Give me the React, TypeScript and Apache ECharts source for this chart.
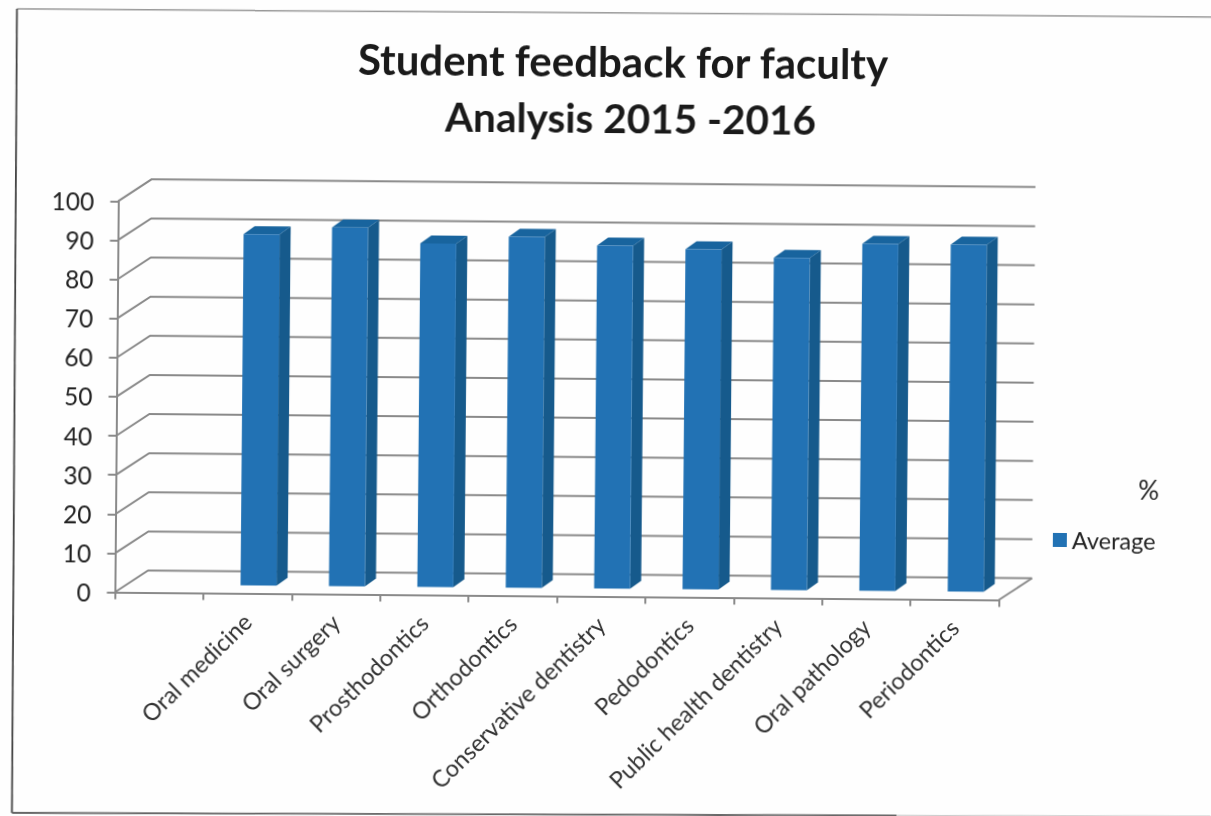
import React, { useEffect, useRef } from "react";
import * as echarts from "echarts";

const categories = ["", "Oral medicine", "Oral surgery", "Prosthodontics", "Orthodontics", "Conservative dentistry", "Pedodontics", "Public health dentistry", "Oral pathology", "Periodontics"];
const averages = [null, 89.8, 91.7, 87.8, 89.7, 87.7, 86.9, 84.9, 88.7, 88.7];
const yTicks = [0, 10, 20, 30, 40, 50, 60, 70, 80, 90, 100];
const titleLines = ["Student feedback for faculty", "Analysis 2015 -2016"];
const FONT = "Lato, 'Open Sans', sans-serif";

export default function App() {
  const ref = useRef<HTMLDivElement>(null);
  useEffect(() => {
    const chart = echarts.init(ref.current!, undefined, { renderer: "svg" });
    const P = 10;
    const wallDx = 33, wallDy = -22;
    const barDx = 11, barDy = -8;
    const baseDx = 11, baseDy = -8;
    const barW = 36;
    const lineStyle = { stroke: "#8a8a8a", lineWidth: 2, fill: "none" };
    const titleStyle = { fontFamily: FONT, fontSize: 42, fontWeight: "bold", color: "#1a1a1a" };
    chart.setOption({
      animation: false,
      backgroundColor: "#fefefe",
      title: [
        { text: titleLines[0], left: 615 + P, top: 35 + P, textAlign: "center", textStyle: titleStyle },
        { text: titleLines[1], left: 623 + P, top: 92 + P, textAlign: "center", textStyle: { ...titleStyle, fontSize: 40.5 } },
      ],
      legend: {
        data: ["Average"],
        left: 1049 + P,
        top: 519 + P,
        itemWidth: 14,
        itemHeight: 14,
        icon: "rect",
        textStyle: { fontFamily: FONT, fontSize: 23.5, color: "#222" },
      },
      grid: { left: 116.5 + P, right: 210.5 + P, top: 205.3 + P, bottom: 219.5 + P },
      xAxis: {
        type: "category",
        data: categories,
        boundaryGap: true,
        axisLine: { lineStyle: { color: "#8a8a8a", width: 2 } },
        axisTick: { show: true, alignWithLabel: false, length: 7, lineStyle: { color: "#8a8a8a", width: 2 } },
        axisLabel: { interval: 0, rotate: 45, margin: 24, fontFamily: FONT, fontSize: 23.5, color: "#333" },
      },
      yAxis: {
        type: "value",
        min: 0,
        max: 100,
        interval: 10,
        splitLine: { show: false },
        axisLine: { show: true, lineStyle: { color: "#8a8a8a", width: 2 } },
        axisTick: { show: true, length: 8, lineStyle: { color: "#8a8a8a", width: 2 } },
        axisLabel: { margin: 24, fontFamily: FONT, fontSize: 24.5, color: "#222" },
      },
      graphic: [
        { type: "text", left: 1139 + P, top: 472 + P, style: { text: "%", fontFamily: FONT, fontSize: 26, fill: "#222" } },
        { type: "line", silent: true, shape: { x1: 13.5 + P, y1: 14.1 + P, x2: 1208 + P, y2: 11.7 + P }, style: { stroke: "#999", lineWidth: 1.5 } },
        { type: "line", silent: true, shape: { x1: 13.5 + P, y1: 14.1 + P, x2: 15.5 + P, y2: 818 + P }, style: { stroke: "#444", lineWidth: 1.8 } },
        { type: "line", silent: true, shape: { x1: 15.5 + P, y1: 818 + P, x2: 900 + P, y2: 813 + P }, style: { stroke: "#666", lineWidth: 1.8 } },
        { type: "line", silent: true, shape: { x1: 900 + P, y1: 813 + P, x2: 1214 + P, y2: 811 + P }, style: { stroke: "#ccc", lineWidth: 1.5 } },
      ],
      series: [
        {
          type: "custom",
          name: "Walls",
          silent: true,
          z: 1,
          data: yTicks.map((t) => [categories[0], t]),
          renderItem: (params: any, api: any) => {
            const cs = params.coordSys;
            const y = api.coord([0, api.value(1)])[1];
            const children: any[] = [
              {
                type: "polyline",
                shape: { points: [[cs.x, y], [cs.x + wallDx, y + wallDy], [cs.x + cs.width + wallDx, y + wallDy]] },
                style: lineStyle,
              },
            ];
            if (api.value(1) === 0) {
              children.push({
                type: "line",
                shape: { x1: cs.x + cs.width, y1: y, x2: cs.x + cs.width + wallDx, y2: y + wallDy },
                style: lineStyle,
              });
            }
            return { type: "group", children };
          },
        },
        {
          type: "custom",
          name: "Average",
          silent: true,
          z: 3,
          itemStyle: { color: "#2272B4" },
          data: categories.map((c, i) => [c, averages[i]]).filter((d) => d[1] !== null),
          renderItem: (_p: any, api: any) => {
            const [cx, top] = api.coord([api.value(0), api.value(1)]);
            const [, bottom] = api.coord([api.value(0), 0]);
            const l = cx - barW / 2 + baseDx;
            const r = l + barW;
            const t = top + baseDy;
            const b = bottom + baseDy;
            return {
              type: "group",
              children: [
                { type: "polygon", shape: { points: [[r, t], [r + barDx, t + barDy], [r + barDx, b + barDy], [r, b]] }, style: { fill: "#165A8C" } },
                { type: "polygon", shape: { points: [[l, t], [l + barDx, t + barDy], [r + barDx, t + barDy], [r, t]] }, style: { fill: "#18649E" } },
                { type: "rect", shape: { x: l, y: t, width: barW, height: b - t }, style: { fill: "#2272B4" } },
              ],
            };
          },
        },
      ],
    });
    return () => chart.dispose();
  }, []);
  return (
    <div style={{ position: "fixed", left: 0, top: 0, width: 1211, height: 816, overflow: "hidden", background: "#fefefe" }}>
      <div
        ref={ref}
        style={{ position: "absolute", left: -10, top: -10, width: 1231, height: 836, transform: "rotate(0.5deg)", transformOrigin: "615px 418px", filter: "blur(0.5px)" }}
      />
    </div>
  );
}
